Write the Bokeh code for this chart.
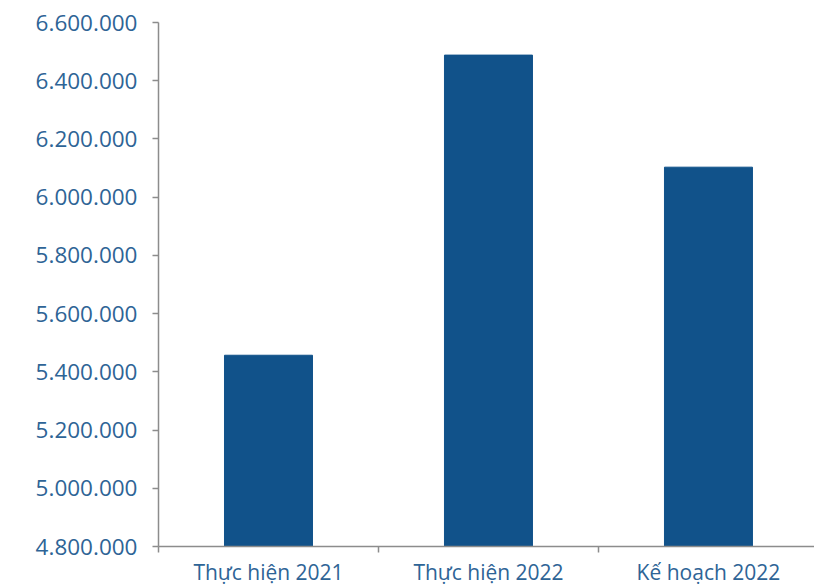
from bokeh.plotting import figure
from bokeh.models import FixedTicker, Range1d, CustomJSTickFormatter
from bokeh.embed import file_html
from bokeh.resources import INLINE

categories = ["Thực hiện 2021", "Thực hiện 2022", "Kế hoạch 2022"]
values = [5457000, 6488000, 6103000]
y_ticks = [4800000, 5000000, 5200000, 5400000, 5600000, 5800000, 6000000, 6200000, 6400000, 6600000]

xs = [i + 0.5 for i in range(len(categories))]
bounds = list(range(len(categories) + 1))

p = figure(width=814, height=588, output_backend="svg", toolbar_location=None,
           x_range=Range1d(0, 2.982), y_range=Range1d(4800000, 6600000),
           min_border_left=158, min_border_right=0, min_border_top=22, min_border_bottom=42)
p.outline_line_color = None
p.xgrid.visible = False
p.ygrid.visible = False
p.background_fill_color = "white"
p.border_fill_color = "white"

p.vbar(x=xs, top=values, bottom=4800000, width=0.4, color="#11528A")

text_color = "#2E6496"
axis_color = "#8C8C8C"

p.yaxis.ticker = FixedTicker(ticks=y_ticks)
p.yaxis.formatter = CustomJSTickFormatter(code="return tick.toString().replace(/\\B(?=(\\d{3})+(?!\\d))/g, '.');")
p.yaxis.axis_line_color = axis_color
p.yaxis.axis_line_width = 1.5
p.yaxis.major_tick_line_color = axis_color
p.yaxis.major_tick_line_width = 1.5
p.yaxis.major_tick_out = 6
p.yaxis.major_tick_in = 0
p.yaxis.minor_tick_line_color = None
p.yaxis.major_label_text_font = "Open Sans"
p.yaxis.major_label_text_font_size = "22.5px"
p.yaxis.major_label_text_color = text_color
p.yaxis.major_label_standoff = 15

p.xaxis.ticker = FixedTicker(ticks=xs, minor_ticks=bounds)
p.xaxis.major_label_overrides = {x: c for x, c in zip(xs, categories)}
p.xaxis.axis_line_color = axis_color
p.xaxis.axis_line_width = 1.5
p.xaxis.major_tick_line_color = None
p.xaxis.minor_tick_line_color = axis_color
p.xaxis.minor_tick_line_width = 1.5
p.xaxis.minor_tick_out = 6
p.xaxis.minor_tick_in = 0
p.xaxis.major_label_text_font = "Open Sans"
p.xaxis.major_label_text_font_size = "21px"
p.xaxis.major_label_text_color = text_color
p.xaxis.major_label_standoff = 5

open("out.html", "w").write(file_html(p, INLINE))
